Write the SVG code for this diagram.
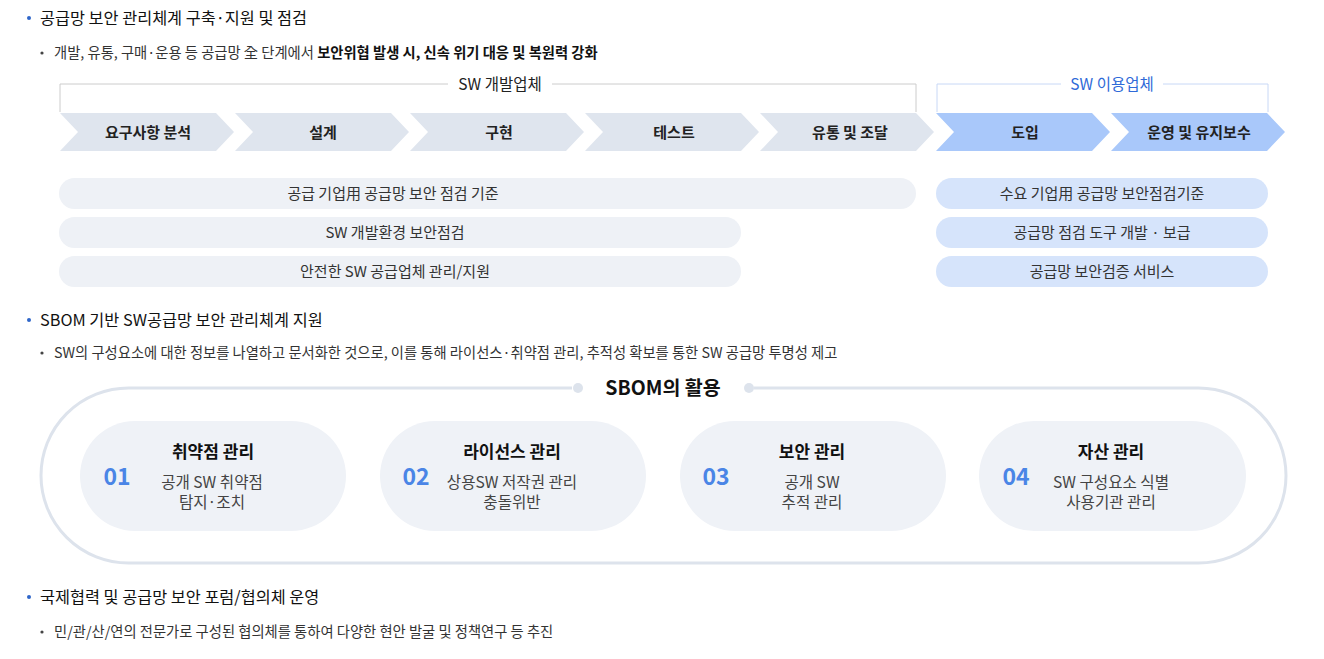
<svg xmlns="http://www.w3.org/2000/svg" width="1324" height="659" viewBox="0 0 1324 659">
<style>
text{font-family:"Noto Sans CJK KR","Noto Sans",sans-serif;}
.h{font-size:16.3px;fill:#111;}
.s{font-size:14.3px;fill:#333;}
.sb{font-weight:700;fill:#111;}
.bd{fill:#2f66c9;}
.sd{fill:#444;}
.chg{fill:#dfe5ee;}
.chb{fill:#a9c8fa;}
.ct{font-size:15px;font-weight:700;fill:#222;text-anchor:middle;}
.pg{fill:#eef1f6;}
.pb{fill:#d6e4fb;}
.pt{font-size:15px;fill:#333;text-anchor:middle;}
.card{fill:#eff2f7;}
.num{font-size:23px;font-weight:700;fill:#4a85e6;text-anchor:middle;}
.ttl{font-size:17px;font-weight:700;fill:#111;text-anchor:middle;}
.sub{font-size:15.6px;fill:#444;text-anchor:middle;}
</style>
<defs>
<polygon id="chev" points="0,113 156,113 174,132 156,151 0,151 18,132"/>
</defs>
<rect width="1324" height="659" fill="#fff"/>

<g id="section1">
<circle class="bd" cx="29" cy="18" r="2"/>
<text class="h" x="40" y="24">공급망 보안 관리체계 구축·지원 및 점검</text>
<circle class="sd" cx="42" cy="53" r="1.6"/>
<text class="s" x="54" y="58">개발, 유통, 구매·운용 등 공급망 全 단계에서 <tspan class="sb">보안위협 발생 시, 신속 위기 대응 및 복원력 강화</tspan></text>
</g>

<g id="connectors">
<path d="M60,112 V84 H916 V112" fill="none" stroke="#cccccc" stroke-width="1"/>
<path d="M937,112 V84 H1268 V112" fill="none" stroke="#c8d8f6" stroke-width="1"/>
</g>
<g id="bracket-dev">
<rect x="448" y="74" width="104" height="20" fill="#fff"/>
<text x="500" y="89.5" font-size="15.5" fill="#222" text-anchor="middle">SW 개발업체</text>
</g>
<g id="bracket-user">
<rect x="1061" y="74" width="102" height="20" fill="#fff"/>
<text x="1112" y="89.5" font-size="15.5" fill="#2f6ad8" text-anchor="middle">SW 이용업체</text>
</g>

<g id="step1"><use href="#chev" x="60" class="chg"/><text class="ct" x="148" y="137.5">요구사항 분석</text></g>
<g id="step2"><use href="#chev" x="235" class="chg"/><text class="ct" x="323" y="137.5">설계</text></g>
<g id="step3"><use href="#chev" x="410" class="chg"/><text class="ct" x="499" y="137.5">구현</text></g>
<g id="step4"><use href="#chev" x="585" class="chg"/><text class="ct" x="674" y="137.5">테스트</text></g>
<g id="step5"><use href="#chev" x="760" class="chg"/><text class="ct" x="850" y="137.5">유통 및 조달</text></g>
<g id="step6"><use href="#chev" x="936" class="chb"/><text class="ct" x="1025" y="137.5">도입</text></g>
<g id="step7"><use href="#chev" x="1111" class="chb"/><text class="ct" x="1199" y="137.5">운영 및 유지보수</text></g>

<g id="pill-dev1"><rect class="pg" x="59" y="178" width="857" height="31" rx="15.5"/><text class="pt" x="393" y="198.5">공급 기업用 공급망 보안 점검 기준</text></g>
<g id="pill-dev2"><rect class="pg" x="59" y="217" width="682" height="31" rx="15.5"/><text class="pt" x="395" y="237.5">SW 개발환경 보안점검</text></g>
<g id="pill-dev3"><rect class="pg" x="59" y="256" width="682" height="31" rx="15.5"/><text class="pt" x="395" y="276.5">안전한 SW 공급업체 관리/지원</text></g>
<g id="pill-user1"><rect class="pb" x="936" y="178" width="332" height="31" rx="15.5"/><text class="pt" x="1102" y="198.5">수요 기업用 공급망 보안점검기준</text></g>
<g id="pill-user2"><rect class="pb" x="936" y="217" width="332" height="31" rx="15.5"/><text class="pt" x="1102" y="237.5">공급망 점검 도구 개발 · 보급</text></g>
<g id="pill-user3"><rect class="pb" x="936" y="256" width="332" height="31" rx="15.5"/><text class="pt" x="1102" y="276.5">공급망 보안검증 서비스</text></g>

<g id="section2">
<circle class="bd" cx="29" cy="320" r="2"/>
<text class="h" x="40" y="326">SBOM 기반 SW공급망 보안 관리체계 지원</text>
<circle class="sd" cx="42" cy="353" r="1.6"/>
<text class="s" x="54" y="358">SW의 구성요소에 대한 정보를 나열하고 문서화한 것으로, 이를 통해 라이선스·취약점 관리, 추적성 확보를 통한 SW 공급망 투명성 제고</text>
</g>

<g id="sbom-frame">
<rect x="41" y="388" width="1245" height="175" rx="87.5" fill="none" stroke="#dde3ec" stroke-width="3"/>
<rect x="572" y="376" width="182" height="24" fill="#fff"/>
<circle cx="578" cy="388" r="5" fill="#dde3ec"/>
<circle cx="749" cy="388" r="5" fill="#dde3ec"/>
<text x="663" y="394.5" font-size="19.5" font-weight="700" fill="#111" text-anchor="middle">SBOM의 활용</text>
</g>

<g id="card1">
<rect class="card" x="80" y="421" width="266" height="110" rx="55"/>
<text class="num" x="117" y="485">01</text>
<text class="ttl" x="213" y="458">취약점 관리</text>
<text class="sub" x="212" y="488">공개 SW 취약점</text>
<text class="sub" x="212" y="508">탐지·조치</text>
</g>
<g id="card2">
<rect class="card" x="380" y="421" width="266" height="110" rx="55"/>
<text class="num" x="416" y="485">02</text>
<text class="ttl" x="512" y="458">라이선스 관리</text>
<text class="sub" x="512" y="488">상용SW 저작권 관리</text>
<text class="sub" x="512" y="508">충돌위반</text>
</g>
<g id="card3">
<rect class="card" x="680" y="421" width="266" height="110" rx="55"/>
<text class="num" x="716" y="485">03</text>
<text class="ttl" x="812" y="458">보안 관리</text>
<text class="sub" x="812" y="488">공개 SW</text>
<text class="sub" x="812" y="508">추적 관리</text>
</g>
<g id="card4">
<rect class="card" x="979" y="421" width="267" height="110" rx="55"/>
<text class="num" x="1016" y="485">04</text>
<text class="ttl" x="1111" y="458">자산 관리</text>
<text class="sub" x="1111" y="488">SW 구성요소 식별</text>
<text class="sub" x="1111" y="508">사용기관 관리</text>
</g>

<g id="section3">
<circle class="bd" cx="29" cy="597" r="2"/>
<text class="h" x="40" y="603">국제협력 및 공급망 보안 포럼/협의체 운영</text>
<circle class="sd" cx="42" cy="632" r="1.6"/>
<text class="s" x="54" y="637">민/관/산/연의 전문가로 구성된 협의체를 통하여 다양한 현안 발굴 및 정책연구 등 추진</text>
</g>
</svg>
